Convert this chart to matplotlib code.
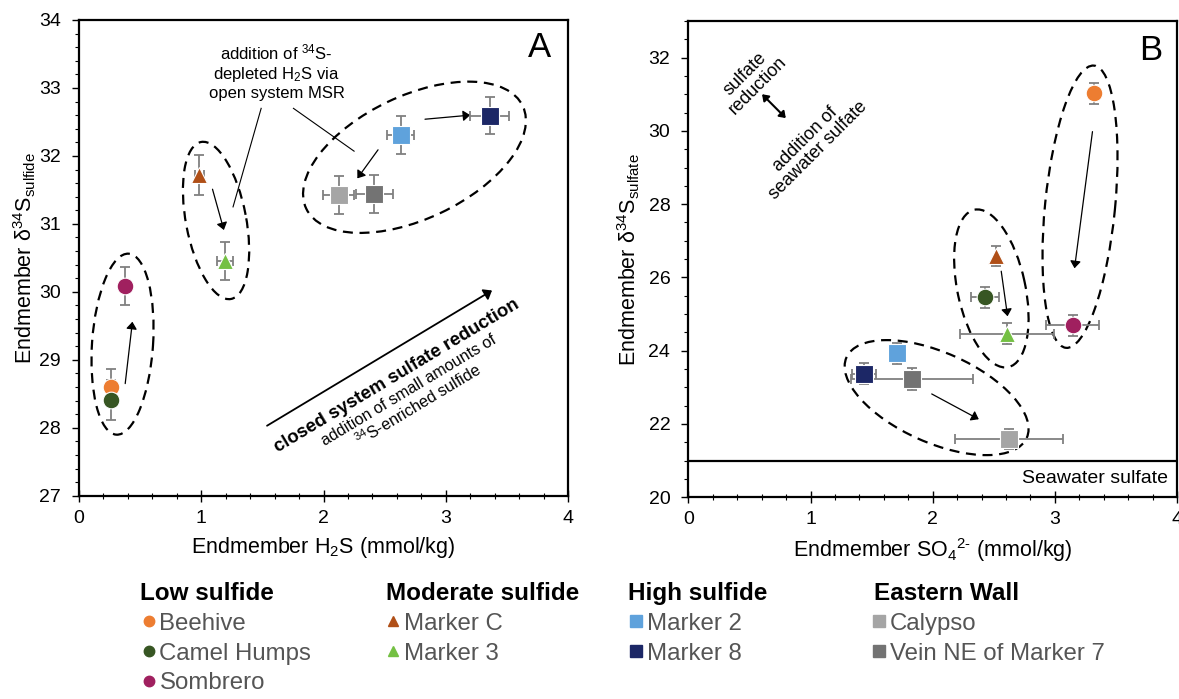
import numpy as np
import matplotlib
matplotlib.use("Agg")
import matplotlib.pyplot as plt
from matplotlib.patches import Ellipse
from matplotlib.transforms import ScaledTranslation
from matplotlib.lines import Line2D
from matplotlib.ticker import MultipleLocator

plt.rcParams['font.family'] = ['Liberation Sans', 'DejaVu Sans']
plt.rcParams['mathtext.fontset'] = 'custom'
plt.rcParams['mathtext.rm'] = 'Liberation Sans'
plt.rcParams['mathtext.it'] = 'Liberation Sans:italic'
plt.rcParams['mathtext.bf'] = 'Liberation Sans:bold'

# vent sites: name, group, marker, colour
sites = ['Beehive', 'Camel Humps', 'Sombrero', 'Marker C', 'Marker 3',
         'Marker 2', 'Marker 8', 'Calypso', 'Vein NE of Marker 7']
groups = ['Low sulfide', 'Low sulfide', 'Low sulfide', 'Moderate sulfide', 'Moderate sulfide',
          'High sulfide', 'High sulfide', 'Eastern Wall', 'Eastern Wall']
markers = ['o', 'o', 'o', '^', '^', 's', 's', 's', 's']
colors = ['#ED7D31', '#375623', '#A0205F', '#B04F17', '#74C043',
          '#5FA2DC', '#1C2766', '#A5A5A5', '#737373']

# panel A: endmember H2S vs d34S sulfide
h2s = [0.265, 0.265, 0.375, 0.985, 1.194, 2.63, 3.36, 2.123, 2.415]
h2s_err = [0.0, 0.0, 0.0, 0.04, 0.065, 0.11, 0.16, 0.13, 0.15]
d34s_sulfide = [28.60, 28.41, 30.09, 31.72, 30.45, 32.31, 32.59, 31.42, 31.44]
d34s_sulfide_err = [0.27, 0.29, 0.28, 0.29, 0.28, 0.28, 0.27, 0.28, 0.28]

# panel B: endmember SO4 vs d34S sulfate
so4 = [3.32, 2.43, 3.145, 2.515, 2.607, 1.71, 1.439, 2.623, 1.832]
so4_err = [0.0, 0.115, 0.22, 0.0, 0.385, 0.0, 0.1, 0.44, 0.5]
d34s_sulfate = [31.03, 25.455, 24.69, 26.59, 24.46, 23.93, 23.37, 21.585, 23.22]
d34s_sulfate_err = [0.29, 0.29, 0.29, 0.28, 0.29, 0.28, 0.29, 0.28, 0.3]

seawater_sulfate = 21.0

fig = plt.figure(figsize=(11.79, 6.99), dpi=100)
axA = fig.add_axes([0.067, 0.2908, 0.4148, 0.6806])
axB = fig.add_axes([0.5839, 0.2886, 0.4144, 0.6814])


def px_ellipse(ax, cx, cy, a, b, ang):
    # ellipse sized in pixels, centred on a data point
    tr = fig.dpi_scale_trans + ScaledTranslation(cx, cy, ax.transData)
    e = Ellipse((0, 0), 2 * a / 100, 2 * b / 100, angle=ang, transform=tr,
                fill=False, ec='black', lw=1.6, ls=(0, (4.5, 3)), zorder=1)
    ax.add_patch(e)


def arrow(ax, x0, y0, x1, y1, lw=0.9, hw=9, hl=12):
    ax.annotate('', xy=(x1, y1), xytext=(x0, y0),
                arrowprops=dict(arrowstyle='-|>,head_width=%.2f,head_length=%.2f' % (hw / 28, hl / 28),
                                color='black', lw=lw, shrinkA=0, shrinkB=0), zorder=2)


msize = {'o': 12, '^': 12, 's': 12.5}


def draw_points(ax, xs, xe, ys, ye):
    for i in range(len(sites)):
        ax.errorbar(xs[i], ys[i], xerr=xe[i] if xe[i] > 0 else None, yerr=ye[i],
                    fmt='none', ecolor='#808080', elinewidth=1.3, capsize=3.5, capthick=1.3, zorder=3)
        ax.plot(xs[i], ys[i], marker=markers[i], ms=msize[markers[i]], color=colors[i],
                mec='white', mew=0.8, ls='none', zorder=4)


for ax in (axA, axB):
    ax.set_xlim(0, 4)
    ax.xaxis.set_major_locator(MultipleLocator(1))
    ax.xaxis.set_minor_locator(MultipleLocator(0.2))
    ax.tick_params(axis='x', which='both', direction='inout', labelsize=14, pad=6)
    ax.tick_params(axis='x', which='major', length=8, width=1)
    ax.tick_params(axis='x', which='minor', length=5, width=0.8)
    ax.tick_params(axis='y', which='both', direction='out', labelsize=14, pad=8)
    ax.tick_params(axis='y', which='major', length=5, width=1)
    ax.tick_params(axis='y', which='minor', length=3, width=0.8)
    for s in ax.spines.values():
        s.set_linewidth(1.6)

# ---- panel A
axA.set_ylim(27, 34)
axA.yaxis.set_major_locator(MultipleLocator(1))
axA.yaxis.set_minor_locator(MultipleLocator(0.2))
axA.set_xlabel('Endmember H$_2$S (mmol/kg)', fontsize=15.5, labelpad=6)
axA.set_ylabel('Endmember δ$^{34}$S$_{\\mathrm{sulfide}}$', fontsize=15.5, labelpad=1)
draw_points(axA, h2s, h2s_err, d34s_sulfide, d34s_sulfide_err)

px_ellipse(axA, 0.356, 29.23, 90.7, 30.5, 86.1)
px_ellipse(axA, 1.121, 31.05, 79.9, 30.1, 100.8)
px_ellipse(axA, 2.744, 31.98, 119.8, 61.5, 25.35)

arrow(axA, 0.378, 28.65, 0.437, 29.56)
arrow(axA, 1.092, 31.51, 1.185, 30.91)
arrow(axA, 2.83, 32.54, 3.2, 32.60)
arrow(axA, 2.446, 32.09, 2.277, 31.67)
arrow(axA, 1.538, 28.03, 3.378, 30.02, lw=1.3, hw=10, hl=13)

axA.text(1.615, 33.24, 'addition of $^{34}$S-\ndepleted H$_2$S via\nopen system MSR',
         ha='center', va='center', fontsize=12, linespacing=1.2)
axA.plot([1.49, 1.26], [32.70, 31.25], color='black', lw=0.8)
axA.plot([1.754, 2.25], [32.70, 32.07], color='black', lw=0.8)
axA.text(3.77, 33.6, 'A', fontsize=25, ha='center', va='center')

axA.text(2.6, 28.77, 'closed system sulfate reduction', rotation=31, fontsize=13.4,
         fontweight='bold', ha='center', va='center')
axA.text(2.74, 28.43, 'addition of small amounts of\n$^{34}$S-enriched sulfide', rotation=31,
         fontsize=11.6, ha='center', va='center', linespacing=1.05, multialignment='center')

# ---- panel B
axB.set_ylim(20, 33)
axB.yaxis.set_major_locator(MultipleLocator(2))
axB.yaxis.set_minor_locator(MultipleLocator(0.5))
axB.set_xlabel('Endmember SO$_4$$^{2\\text{-}}$ (mmol/kg)', fontsize=15.5, labelpad=6)
axB.set_ylabel('Endmember δ$^{34}$S$_{\\mathrm{sulfate}}$', fontsize=15.5, labelpad=5)
draw_points(axB, so4, so4_err, d34s_sulfate, d34s_sulfate_err)

axB.axhline(seawater_sulfate, color='black', lw=1.6, zorder=2)
axB.text(3.93, 20.5, 'Seawater sulfate', ha='right', va='center', fontsize=14)

px_ellipse(axB, 3.206, 27.93, 141.8, 35.0, 84.35)
px_ellipse(axB, 2.48, 25.70, 80.5, 33.9, 102.2)
px_ellipse(axB, 2.032, 22.72, 98.7, 45.0, -24.05)

arrow(axB, 3.308, 29.98, 3.161, 26.25)
arrow(axB, 2.561, 26.17, 2.613, 24.94)
arrow(axB, 1.992, 22.82, 2.377, 22.13)
axB.annotate('', xy=(0.797, 30.35), xytext=(0.603, 31.0),
             arrowprops=dict(arrowstyle='<|-|>,head_width=0.25,head_length=0.35',
                             color='black', lw=1.5, shrinkA=0, shrinkB=0))
axB.text(0.517, 31.39, 'sulfate\nreduction', rotation=45, fontsize=13,
         ha='center', va='center', linespacing=1.0)
axB.text(1.01, 29.62, 'addition of\nseawater sulfate', rotation=45, fontsize=13,
         ha='center', va='center', linespacing=1.0)
axB.text(3.785, 32.2, 'B', fontsize=25, ha='center', va='center')

# ---- legend (four column groups, bold heading above each)
group_names = ['Low sulfide', 'Moderate sulfide', 'High sulfide', 'Eastern Wall']
title_x = [0.1187, 0.3274, 0.5327, 0.7413]
legend_x = [0.1216, 0.3286, 0.5348, 0.7408]
for gname, tx, lx in zip(group_names, title_x, legend_x):
    fig.text(tx, 0.1516, gname, fontsize=17.5, fontweight='bold', ha='left', va='center')
    idx = [i for i in range(len(sites)) if groups[i] == gname]
    handles = [Line2D([], [], marker=markers[i], color=colors[i], ls='none',
                      ms=7.5 if markers[i] != 's' else 8.5, mec=colors[i]) for i in idx]
    labels = [sites[i] for i in idx]
    fig.legend(handles, labels, loc='upper left',
               bbox_to_anchor=(lx, 0.1236), frameon=False, fontsize=17.3,
               handlelength=0.45, handletextpad=0.22,
               labelspacing=0.33, borderpad=0, borderaxespad=0, labelcolor='#555555')

fig.savefig('out.png', dpi=100)
